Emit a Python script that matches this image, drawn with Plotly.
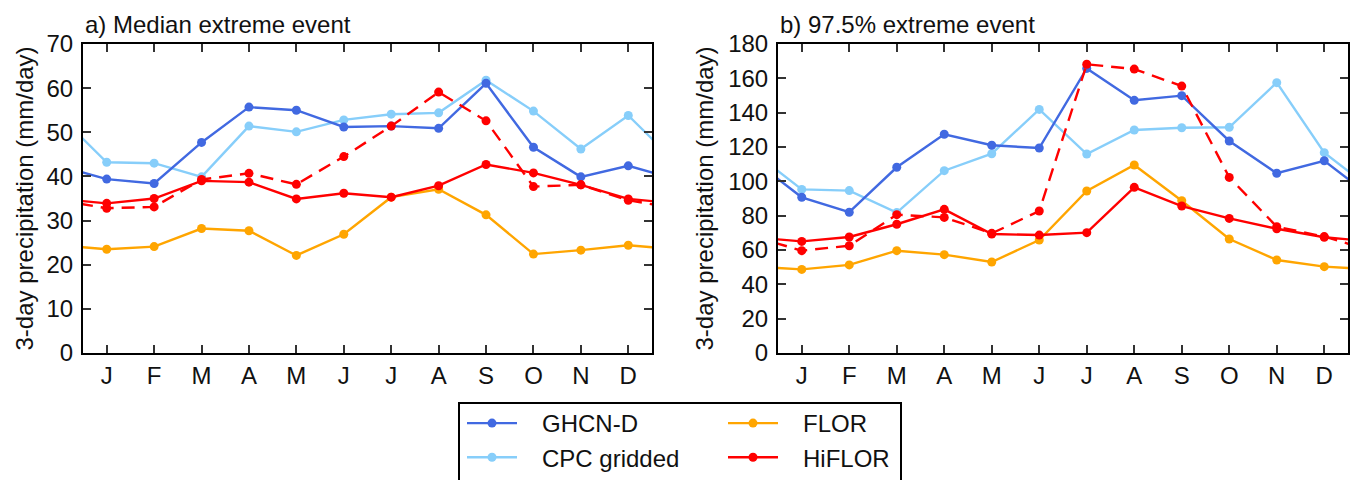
import plotly.graph_objects as go

months = ["J", "F", "M", "A", "M", "J", "J", "A", "S", "O", "N", "D"]
month_idx = list(range(1, 13))

# a) Median extreme event
med_ghcn = [39.4, 38.4, 47.7, 55.7, 55.0, 51.2, 51.4, 50.9, 61.1, 46.6, 39.9, 42.4]
med_cpc = [43.2, 43.0, 39.9, 51.4, 50.1, 52.8, 54.1, 54.4, 61.8, 54.8, 46.2, 53.8]
med_flor = [23.5, 24.1, 28.2, 27.7, 22.1, 26.9, 35.3, 37.1, 31.3, 22.4, 23.3, 24.4]
med_hiflor = [33.9, 35.0, 39.0, 38.7, 34.9, 36.2, 35.3, 37.9, 42.7, 40.8, 38.1, 34.9]
med_hiflor_dash = [32.8, 33.1, 39.3, 40.7, 38.2, 44.5, 51.4, 59.1, 52.6, 37.7, 38.1, 34.6]

# b) 97.5% extreme event
ext_ghcn = [90.7, 82.0, 108.2, 127.4, 121.0, 119.4, 165.8, 147.2, 149.9, 123.5, 104.7, 112.0]
ext_cpc = [95.3, 94.6, 81.8, 106.2, 116.1, 141.9, 115.9, 129.9, 131.2, 131.5, 157.5, 116.7]
ext_flor = [48.7, 51.3, 59.6, 57.3, 53.0, 65.8, 94.4, 109.5, 88.7, 66.4, 54.2, 50.3]
ext_hiflor = [65.0, 67.6, 75.0, 83.7, 69.3, 68.7, 70.1, 96.5, 85.6, 78.4, 72.4, 67.4]
ext_hiflor_dash = [59.6, 62.5, 80.6, 79.0, 69.7, 82.7, 168.2, 165.4, 155.5, 102.3, 73.6, 67.8]

panel_titles = ["a) Median extreme event", "b) 97.5% extreme event"]
y_title = "3-day precipitation (mm/day)"
y_ranges = [(0, 70), (0, 180)]
y_dticks = [10, 20]

C_GHCN = "#4169E1"
C_CPC = "#87CEFA"
C_FLOR = "#FFA500"
C_HI = "#FF0000"

FONT = "Liberation Sans, Arial, sans-serif"
PAD = "\u00a0\u00a0\u00a0"

fig = go.Figure()


def wrap(v):
    return [0] + month_idx + [13], [v[-1]] + list(v) + [v[0]]


def add(vals, name, color, xa, ya, legend, showlegend, dash="solid"):
    x, y = wrap(vals)
    fig.add_trace(go.Scatter(
        x=x, y=y, mode="lines+markers", name=PAD + name,
        line=dict(color=color, width=2.4, dash=dash),
        marker=dict(color=color, size=9),
        xaxis=xa, yaxis=ya, legend=legend, showlegend=showlegend,
        cliponaxis=True,
    ))


panels = [
    (med_ghcn, med_cpc, med_flor, med_hiflor, med_hiflor_dash, "x", "y"),
    (ext_ghcn, ext_cpc, ext_flor, ext_hiflor, ext_hiflor_dash, "x2", "y2"),
]
for i, (g, c, f, h, hd, xa, ya) in enumerate(panels):
    first = i == 0
    add(c, "CPC gridded", C_CPC, xa, ya, "legend", first)
    add(g, "GHCN-D", C_GHCN, xa, ya, "legend", first)
    add(f, "FLOR", C_FLOR, xa, ya, "legend2", first)
    add(h, "HiFLOR", C_HI, xa, ya, "legend2", first)
    add(hd, "HiFLOR (dashed)", C_HI, xa, ya, "legend2", False, dash="13px,8px")

W, H = 1357, 480
L, R, T, B = 83, 9, 44, 127
pw = W - L - R

axis_common = dict(
    showline=True, linecolor="black", linewidth=2, mirror="ticks",
    ticks="inside", ticklen=8, tickwidth=1.5, tickcolor="#333",
    showgrid=False, zeroline=False, automargin=False,
    tickfont=dict(family=FONT, size=24, color="#111"),
)

dom1 = [0, (652 - L) / pw]
dom2 = [(778 - L) / pw, 1]

fig.update_layout(
    template="none",
    width=W, height=H,
    margin=dict(l=L, r=R, t=T, b=B, autoexpand=False),
    plot_bgcolor="white", paper_bgcolor="white",
    font=dict(family=FONT, size=24, color="#111"),
    xaxis=dict(domain=dom1, range=[0.5, 12.5], tickvals=month_idx, ticktext=months,
               anchor="y", ticklabelstandoff=0, **axis_common),
    xaxis2=dict(domain=dom2, range=[0.5, 12.5], tickvals=month_idx, ticktext=months,
                anchor="y2", ticklabelstandoff=0, **axis_common),
    yaxis=dict(domain=[0, 1], range=list(y_ranges[0]), dtick=y_dticks[0], anchor="x",
               ticklabelstandoff=3, **axis_common),
    yaxis2=dict(domain=[0, 1], range=list(y_ranges[1]), dtick=y_dticks[1], anchor="x2",
                ticklabelstandoff=3, **axis_common),
    legend=dict(xref="container", yref="container", x=462 / W, y=1 - 401 / H,
                xanchor="left", yanchor="top", orientation="v", traceorder="reversed",
                bgcolor="rgba(0,0,0,0)", borderwidth=0, itemwidth=50,
                font=dict(family=FONT, size=24, color="#111"), tracegroupgap=0),
    legend2=dict(xref="container", yref="container", x=723 / W, y=1 - 401 / H,
                 xanchor="left", yanchor="top", orientation="v", traceorder="normal",
                 bgcolor="rgba(0,0,0,0)", borderwidth=0, itemwidth=50,
                 font=dict(family=FONT, size=24, color="#111"), tracegroupgap=0),
    showlegend=True,
)

for i, t in enumerate(panel_titles):
    xd = "x domain" if i == 0 else "x2 domain"
    yd = "y domain" if i == 0 else "y2 domain"
    fig.add_annotation(
        text=t, xref=xd, yref=yd,
        x=0, y=1, xanchor="left", yanchor="bottom", yshift=4, showarrow=False,
        font=dict(family=FONT, size=24, color="#111"),
    )
    fig.add_annotation(
        text=y_title, xref=xd, yref=yd, textangle=-90,
        x=0, y=0.5, xanchor="center", yanchor="middle",
        xshift=-59 if i == 0 else -74, showarrow=False,
        font=dict(family=FONT, size=24, color="#111"),
    )

fig.add_shape(
    type="rect", xref="paper", yref="paper",
    x0=(459 - L) / pw, x1=(901 - L) / pw,
    y0=(H - B - 403) / (H - T - B), y1=(H - B - 495) / (H - T - B),
    line=dict(color="black", width=2), fillcolor="rgba(0,0,0,0)", layer="above",
)

fig.write_html("out.html")
